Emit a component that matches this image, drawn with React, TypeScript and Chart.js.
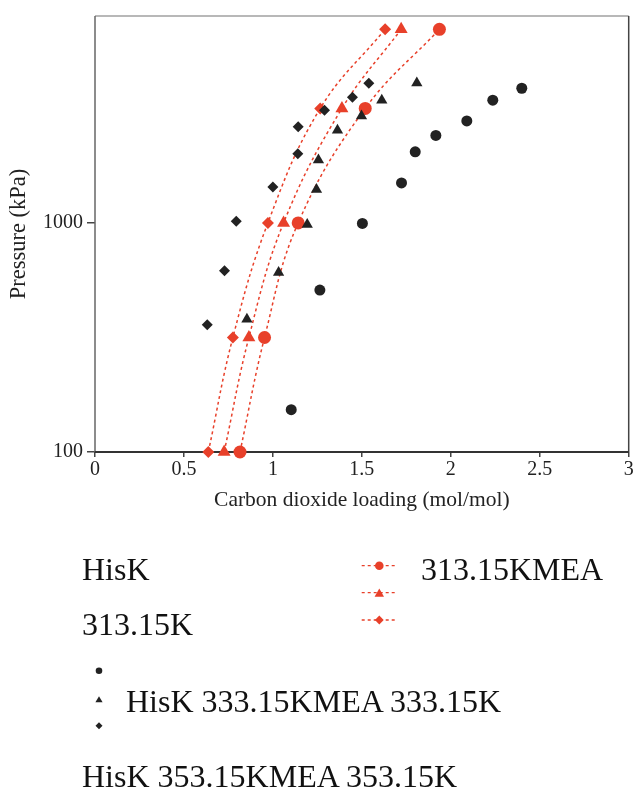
import React, { useEffect, useRef } from 'react';
import { Chart, registerables } from 'chart.js';

Chart.register(...registerables);

// ---------- data ----------
const meaPressure = [100, 316, 1000, 3160, 7000];
const mea313Loading = [0.815, 0.953, 1.142, 1.519, 1.936];
const mea333Loading = [0.726, 0.865, 1.06, 1.388, 1.721];
const mea353Loading = [0.637, 0.775, 0.972, 1.266, 1.631];

const hisk313Loading = [1.103, 1.264, 1.503, 1.723, 1.8, 1.916, 2.09, 2.236, 2.399];
const hisk313Pressure = [153, 509, 995, 1494, 2044, 2409, 2788, 3432, 3870];
const hisk333Loading = [0.854, 1.032, 1.193, 1.245, 1.256, 1.363, 1.498, 1.612, 1.809];
const hisk333Pressure = [380, 608, 985, 1400, 1880, 2540, 2925, 3430, 4080];
const hisk353Loading = [0.631, 0.728, 0.794, 1.0, 1.14, 1.142, 1.29, 1.447, 1.539];
const hisk353Pressure = [359, 618, 1017, 1435, 2003, 2626, 3104, 3537, 4070];

const xTicks = [0, 0.5, 1, 1.5, 2, 2.5, 3];
const yTicks = [100, 1000];
const xTitle = 'Carbon dioxide loading (mol/mol)';
const yTitle = 'Pressure (kPa)';

const RED = '#e8402a';
const BLACK = '#222222';
const FONT = 'Liberation Serif';
const PLOT_RIGHT = 628.7;

const pts = (xs: number[], ys: number[]) => xs.map((x, i) => ({ x, y: ys[i] }));

const rightEdgePlugin = {
  id: 'rightEdge',
  afterLayout(chart: any) {
    const area = chart.chartArea;
    area.right = PLOT_RIGHT;
    area.width = area.right - area.left;
    const xs = chart.scales.x;
    xs.right = PLOT_RIGHT;
    xs.width = xs.right - xs.left;
    xs.configure();
  },
};

const framePlugin = {
  id: 'frame',
  beforeDatasetsDraw(chart: any) {
    const { ctx, chartArea } = chart;
    const { left, right, top, bottom } = chartArea;
    ctx.save();
    ctx.lineWidth = 1.5;
    ctx.strokeStyle = '#a0a0a0';
    ctx.beginPath();
    ctx.moveTo(left, top);
    ctx.lineTo(right, top);
    ctx.stroke();
    ctx.strokeStyle = '#444444';
    ctx.beginPath();
    ctx.moveTo(right, top);
    ctx.lineTo(right, bottom);
    ctx.stroke();
    ctx.strokeStyle = '#666666';
    ctx.beginPath();
    ctx.moveTo(left, top);
    ctx.lineTo(left, bottom);
    ctx.stroke();
    ctx.lineWidth = 2;
    ctx.strokeStyle = '#333333';
    ctx.beginPath();
    ctx.moveTo(left, bottom);
    ctx.lineTo(right, bottom);
    ctx.stroke();
    ctx.restore();
  },
};

function ChartCanvas() {
  const ref = useRef<HTMLCanvasElement | null>(null);
  useEffect(() => {
    if (!ref.current) return;
    Chart.defaults.font.family = FONT;
    const blackSet = (label: string, xs: number[], ys: number[], style: string, r: number) => ({
      label,
      data: pts(xs, ys),
      showLine: false,
      pointStyle: style,
      pointRadius: r,
      pointBackgroundColor: BLACK,
      pointBorderColor: BLACK,
      pointBorderWidth: 0,
      clip: false,
    });
    const redSet = (label: string, xs: number[], style: string, r: number) => ({
      label,
      data: pts(xs, meaPressure),
      showLine: true,
      borderColor: RED,
      borderWidth: 1.5,
      borderDash: [3, 3],
      tension: 0.4,
      fill: false,
      pointStyle: style,
      pointRadius: r,
      pointBackgroundColor: RED,
      pointBorderColor: RED,
      pointBorderWidth: 0,
      clip: false,
    });
    const chart = new Chart(ref.current, {
      type: 'scatter',
      data: {
        datasets: [
          blackSet('HisK 313.15K', hisk313Loading, hisk313Pressure, 'circle', 5.5),
          blackSet('HisK 333.15K', hisk333Loading, hisk333Pressure, 'triangle', 6.5),
          blackSet('HisK 353.15K', hisk353Loading, hisk353Pressure, 'rectRot', 5.5),
          redSet('MEA 313.15K', mea313Loading, 'circle', 6.5),
          redSet('MEA 333.15K', mea333Loading, 'triangle', 7.5),
          redSet('MEA 353.15K', mea353Loading, 'rectRot', 6),
        ] as any,
      },
      options: {
        animation: false,
        responsive: false,
        devicePixelRatio: 1,
        layout: { padding: { left: 0, top: 15, right: 0, bottom: 0 } },
        plugins: { legend: { display: false }, tooltip: { enabled: false } },
        scales: {
          x: {
            type: 'linear',
            min: 0,
            max: 3,
            afterBuildTicks: (s: any) => {
              s.ticks = xTicks.map((v) => ({ value: v }));
            },
            afterFit: (s: any) => {
              s.height = 68;
            },
            ticks: {
              autoSkip: false,
              maxRotation: 0,
              padding: 1,
              color: '#222',
              font: { family: FONT, size: 20 },
              callback: (v: any) => String(v),
            },
            grid: { drawOnChartArea: false, drawTicks: true, tickLength: 5, color: '#444', lineWidth: 1.5 },
            border: { display: false },
            title: {
              display: true,
              text: xTitle,
              color: '#222',
              font: { family: FONT, size: 21.5 },
              padding: { top: 0, bottom: 7 },
            },
          },
          y: {
            type: 'logarithmic',
            min: 100,
            max: 8000,
            afterBuildTicks: (s: any) => {
              s.ticks = yTicks.map((v) => ({ value: v }));
            },
            afterFit: (s: any) => {
              s.width = 95;
            },
            ticks: {
              autoSkip: false,
              padding: 4,
              color: '#222',
              font: { family: FONT, size: 20 },
              callback: (v: any) => String(v),
            },
            grid: { drawOnChartArea: false, drawTicks: true, tickLength: 8, color: '#444', lineWidth: 1.5 },
            border: { display: false },
            title: {
              display: true,
              text: yTitle,
              color: '#222',
              font: { family: FONT, size: 22.5 },
              padding: { top: 6, bottom: 0 },
            },
          },
        },
      } as any,
      plugins: [rightEdgePlugin, framePlugin],
    });
    return () => chart.destroy();
  }, []);
  return (
    <canvas
      ref={ref}
      width={634}
      height={520}
      style={{ position: 'absolute', left: 0, top: 0, width: 634, height: 520 }}
    />
  );
}

const textStyle: React.CSSProperties = {
  position: 'absolute',
  fontFamily: FONT,
  fontSize: 32,
  lineHeight: '32px',
  color: '#111',
  whiteSpace: 'nowrap',
  margin: 0,
};

export default function App() {
  return (
    <div style={{ position: 'absolute', left: 0, top: 0, width: 634, height: 790, background: '#fff' }}>
      <ChartCanvas />
      <svg
        width={634}
        height={790}
        style={{ position: 'absolute', left: 0, top: 0, pointerEvents: 'none' }}
      >
        {[565.7, 592.7, 620].map((y) => (
          <line key={y} x1={361.7} x2={396.7} y1={y} y2={y} stroke={RED} strokeWidth={1.3} strokeDasharray="3 3" />
        ))}
        <circle cx={379.3} cy={565.7} r={4.3} fill={RED} />
        <polygon points="379.3,588.4 384,596.8 374.6,596.8" fill={RED} />
        <polygon points="379.3,615.6 383.7,620 379.3,624.4 374.9,620" fill={RED} />
        <circle cx={99} cy={670.7} r={3.3} fill={BLACK} />
        <polygon points="99,696.3 102.6,702.3 95.4,702.3" fill={BLACK} />
        <polygon points="99,722.2 102.5,725.7 99,729.2 95.5,725.7" fill={BLACK} />
      </svg>
      <div style={{ ...textStyle, left: 82, top: 552.5 }}>HisK</div>
      <div style={{ ...textStyle, left: 82, top: 607.5 }}>313.15K</div>
      <div style={{ ...textStyle, left: 421, top: 552.5 }}>313.15KMEA</div>
      <div style={{ ...textStyle, left: 126, top: 684.5 }}>HisK 333.15KMEA 333.15K</div>
      <div style={{ ...textStyle, left: 82, top: 759.5 }}>HisK 353.15KMEA 353.15K</div>
    </div>
  );
}
